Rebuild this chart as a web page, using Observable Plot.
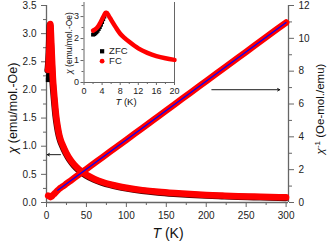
<!DOCTYPE html>
<html><head><meta charset="utf-8">
<script src="https://cdn.jsdelivr.net/npm/d3@7"></script>
<script src="https://cdn.jsdelivr.net/npm/@observablehq/plot@0.6"></script>
<style>
body{margin:0;background:#fff;}
#wrap{position:relative;width:329px;height:242px;font-family:"Liberation Sans",Arial,sans-serif;}
#wrap svg{position:absolute;left:0;top:0;}
</style></head><body><div id="wrap"></div>
<script>
// FC susceptibility chi (emu/mol-Oe) vs T (K)
const T   = [2,2.5,3,3.5,4,4.5,4.8,5,5.5,6,7,8,9,10,12,14,16,18,20,25,30,35,40,50,60,70,80,90,100,120,140,160,180,200,220,240,260,280,300];
const chi = [2.36,2.42,2.52,2.68,2.88,3.08,3.17,3.17,3.02,2.85,2.52,2.22,2.02,1.85,1.55,1.35,1.2,1.1,1.03,0.875,0.757,0.667,0.596,0.491,0.418,0.364,0.322,0.289,0.262,0.220,0.190,0.168,0.150,0.135,0.123,0.113,0.105,0.0976,0.0912];
// inverse susceptibility (Oe-mol/emu)
const invT = [2,3,4,5,6,7,8,10,12,14,16,18,20,25,30,40,50,60,70,80,100,120,140,160,180,200,220,240,260,280,300];
const inv  = [0.42,0.40,0.35,0.32,0.35,0.40,0.45,0.54,0.645,0.74,0.83,0.91,0.97,1.143,1.321,1.679,2.036,2.393,2.75,3.107,3.821,4.536,5.25,5.964,6.679,7.393,8.107,8.821,9.536,10.25,10.964];
// ZFC low-T points
const zfcT   = [2,2.25,2.5,2.75,3,3.25,3.5,3.75,4,4.25,4.5];
const zfcChi = [2.18,2.2,2.24,2.29,2.35,2.43,2.52,2.63,2.75,2.88,3.0];
// Curie-Weiss fit line
const fitT   = [14,300];
const fitInv = [0.75,10.96];
// ticks
const xTicks = [0,50,100,150,200,250,300];
const xMinor = [25,75,125,175,225,275];
const leftTicks = [0,0.5,1,1.5,2,2.5,3,3.5];
const leftMinor = [0.25,0.75,1.25,1.75,2.25,2.75,3.25];
const rightTicks = [0,2,4,6,8,10,12];
const rightMinor = [1,3,5,7,9,11];
const inXTicks = [0,4,8,12,16,20];
const inXMinor = [2,6,10,14,18];
const inYTicks = [0,1,2,3];
const inYMinor = [0.5,1.5,2.5,3.5];
// annotation arrows (data units)
const arrowLeft  = {x1:17.5, x2:1, y:0.85};
const arrowRight = {x1:207, x2:292, yInv:6.87};

const K = 3.5/12; // right-axis units -> left-axis units
const fc = T.map((t,i)=>({t, v:chi[i]}));
const fcInv = invT.map((t,i)=>({t, v:inv[i]*K}));
const zfc = zfcT.map((t,i)=>({t, v:zfcChi[i]}));
const fit = fitT.map((t,i)=>({t, v:fitInv[i]*K}));
const axisCol = "#666", txtCol = "#222";

const main = Plot.plot({
  width:329, height:242,
  marginLeft:46, marginRight:41, marginTop:5, marginBottom:40,
  style:{fontFamily:"Liberation Sans, Arial, sans-serif", fontSize:"10px", background:"transparent", overflow:"visible"},
  x:{domain:[0,303], label:null},
  y:{domain:[0,3.5], label:null},
  marks:[
    Plot.axisX({ticks:xTicks, tickSize:5, tickPadding:4, tickFormat:d=>String(d), stroke:axisCol, fill:txtCol, label:null}),
    Plot.axisX({ticks:xMinor, tickSize:3, tickFormat:()=>"", stroke:axisCol, label:null}),
    Plot.axisY({ticks:leftTicks, tickSize:5, tickPadding:5, tickFormat:d=>d.toFixed(1), stroke:axisCol, fill:txtCol, label:null}),
    Plot.axisY({ticks:leftMinor, tickSize:3, tickFormat:()=>"", stroke:axisCol, label:null}),
    Plot.axisY({anchor:"right", ticks:rightTicks.map(v=>v*K), tickSize:5, tickPadding:5, tickFormat:d=>String(Math.round(d/K)), stroke:axisCol, fill:txtCol, label:null}),
    Plot.axisY({anchor:"right", ticks:rightMinor.map(v=>v*K), tickSize:3, tickFormat:()=>"", stroke:axisCol, label:null}),
    Plot.ruleX([0], {stroke:axisCol, strokeWidth:1.3}),
    Plot.ruleX([303], {stroke:axisCol, strokeWidth:1.3}),
    Plot.ruleY([0], {stroke:axisCol, strokeWidth:1.3}),
    Plot.dot(zfc, {x:"t", y:"v", symbol:"square", r:2.6, fill:"#000"}),
    Plot.line(fc, {x:"t", y:"v", stroke:"#4a0000", strokeWidth:6.5, dx:-0.5, dy:0.6, curve:"monotone-x", strokeLinecap:"round", strokeLinejoin:"round"}),
    Plot.line(fc, {x:"t", y:"v", stroke:"#ff0000", strokeWidth:6.5, curve:"monotone-x", strokeLinecap:"round", strokeLinejoin:"round"}),
    Plot.line(fcInv, {x:"t", y:"v", stroke:"#ff0000", strokeWidth:6.5, curve:"monotone-x", strokeLinecap:"round", strokeLinejoin:"round"}),
    Plot.line(fit, {x:"t", y:"v", stroke:"#0000ff", strokeWidth:1.2}),
    Plot.arrow([arrowLeft], {x1:"x1", x2:"x2", y1:"y", y2:"y", stroke:"#000", strokeWidth:0.9, headLength:4, bend:0}),
    Plot.arrow([arrowRight], {x1:"x1", x2:"x2", y1:d=>d.yInv*K, y2:d=>d.yInv*K, stroke:"#000", strokeWidth:0.9, headLength:4, bend:0})
  ]
});

const inZfc = zfc;
const inFc = fc.filter(d=>d.t<=20.5);
const legend = [{t:4, v:1.42, lab:"ZFC", c:"#000", s:"square"},{t:4, v:0.97, lab:"FC", c:"#ff0000", s:"circle"}];
const inset = Plot.plot({
  width:180, height:110,
  marginLeft:83.5, marginRight:6, marginTop:2, marginBottom:28,
  style:{fontFamily:"Liberation Sans, Arial, sans-serif", fontSize:"9px", background:"transparent", overflow:"visible"},
  x:{domain:[0,20], label:null},
  y:{domain:[0,3.64], label:null},
  marks:[
    Plot.axisX({ticks:inXTicks, tickSize:3, tickPadding:2, tickFormat:d=>String(d), stroke:axisCol, fill:txtCol, label:null}),
    Plot.axisX({ticks:inXMinor, tickSize:2, tickFormat:()=>"", stroke:axisCol, label:null}),
    Plot.axisY({ticks:inYTicks, tickSize:3, tickPadding:2, tickFormat:d=>String(d), stroke:axisCol, fill:txtCol, label:null}),
    Plot.axisY({ticks:inYMinor, tickSize:2, tickFormat:()=>"", stroke:axisCol, label:null}),
    Plot.ruleX([0], {stroke:axisCol, strokeWidth:1}),
    Plot.ruleX([20], {stroke:axisCol, strokeWidth:1}),
    Plot.ruleY([0], {stroke:axisCol, strokeWidth:1}),
    Plot.dot(inZfc, {x:"t", y:"v", symbol:"square", r:2.2, fill:"#000"}),
    Plot.line(inFc, {x:"t", y:"v", stroke:"#ff0000", strokeWidth:4.5, curve:"monotone-x", strokeLinecap:"round", strokeLinejoin:"round"}),
    Plot.dot(legend, {x:"t", y:"v", symbol:"s", r:2.4, fill:"c"}),
    Plot.text(legend, {x:"t", y:"v", text:"lab", dx:7, textAnchor:"start", fontSize:9.5, fill:"#222"})
  ]
});

const wrap = document.getElementById("wrap");
wrap.appendChild(main);
wrap.appendChild(inset);

function addTitle(svg, x, y, rot, size, parts){
  const t = d3.select(svg).append("text")
    .attr("transform", `translate(${x},${y}) rotate(${rot})`)
    .attr("text-anchor","middle")
    .attr("font-family","Liberation Sans, Arial, sans-serif")
    .attr("font-size", size).attr("fill","#111");
  parts.forEach(p=>{
    const s = t.append("tspan").text(p.s);
    if (p.i) s.attr("font-style","italic");
    if (p.sup) s.attr("baseline-shift","super").attr("font-size", size*0.7);
  });
}
addTitle(main, 16.5, 108, -90, 12.5, [{s:"χ", i:true},{s:" (emu/mol.-Oe)"}]);
addTitle(main, 324, 109, -90, 11.5, [{s:"χ", i:true},{s:"-1", sup:true},{s:" (Oe-mol./emu)"}]);
addTitle(main, 168, 238, 0, 14, [{s:"T", i:true},{s:" (K)"}]);
addTitle(inset, 126, 105, 0, 9.5, [{s:"T", i:true},{s:" (K)"}]);
addTitle(inset, 72, 43, -90, 8.5, [{s:"χ", i:true},{s:" (emu/mol.-Oe)"}]);
</script></body></html>
